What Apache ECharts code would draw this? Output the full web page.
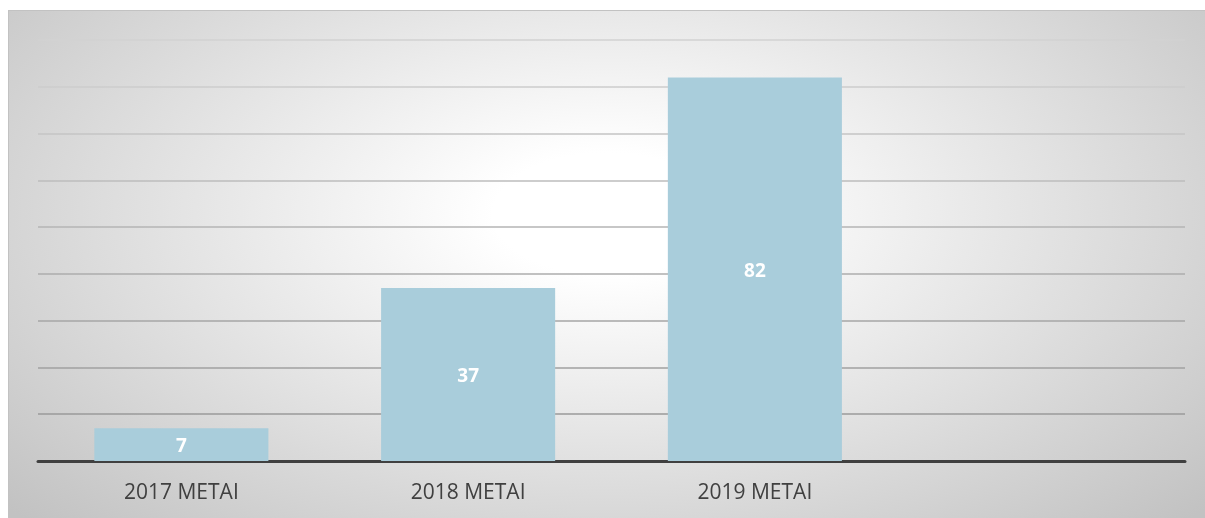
<!DOCTYPE html>
<html>
<head>
<meta charset="utf-8">
<script src="https://cdn.jsdelivr.net/npm/echarts@6/dist/echarts.min.js"></script>
<style>
  html, body { margin: 0; padding: 0; background: #ffffff; overflow: hidden; }
  #frame {
    position: absolute; left: 8px; top: 10px; width: 1197px; height: 508px;
    box-sizing: border-box;
    border-top: 1.5px solid #c2c2c2; border-left: 1.5px solid #c2c2c2;
    background: radial-gradient(ellipse 68% 86% at 50% 40%, #ffffff 14%, #c2c2c2 100%);
  }
  #chart { position: absolute; left: 0; top: 0; width: 1205px; height: 518px; }
</style>
</head>
<body>
<div id="frame"></div>
<div id="chart"></div>
<script>
const categories = ['2017 METAI', '2018 METAI', '2019 METAI', ''];
const values = [7, 37, 82, null];
const yMin = 0, yMax = 90, yInterval = 10;

const chart = echarts.init(document.getElementById('chart'));
chart.setOption({
  backgroundColor: 'transparent',
  animation: false,
  grid: { left: 38, right: 20, top: 40, bottom: 57, containLabel: false },
  xAxis: {
    type: 'category',
    data: categories,
    axisLine: { show: true, lineStyle: { color: '#404040', width: 3 } },
    axisTick: { show: false },
    axisLabel: { color: '#404040', fontSize: 21, fontFamily: 'Open Sans', margin: 22 },
    splitLine: { show: false }
  },
  yAxis: {
    type: 'value',
    min: yMin, max: yMax, interval: yInterval,
    axisLine: { show: false },
    axisTick: { show: false },
    axisLabel: { show: false },
    splitLine: {
      show: true,
      lineStyle: {
        width: 1.5,
        color: ['#404040', '#9a9a9a', '#a0a0a0', '#a6a6a6', '#adadad', '#b4b4b4', '#bcbcbc', '#c4c4c4', '#cccccc', '#d2d2d2']
      }
    }
  },
  series: [{
    type: 'bar',
    data: values,
    barWidth: '60.7%',
    itemStyle: { color: '#a9cddb' },
    label: {
      show: true, position: 'inside', color: '#ffffff', offset: [0, 2],
      fontSize: 19, fontWeight: 'bold', fontFamily: 'Open Sans'
    }
  }]
});
</script>
</body>
</html>
